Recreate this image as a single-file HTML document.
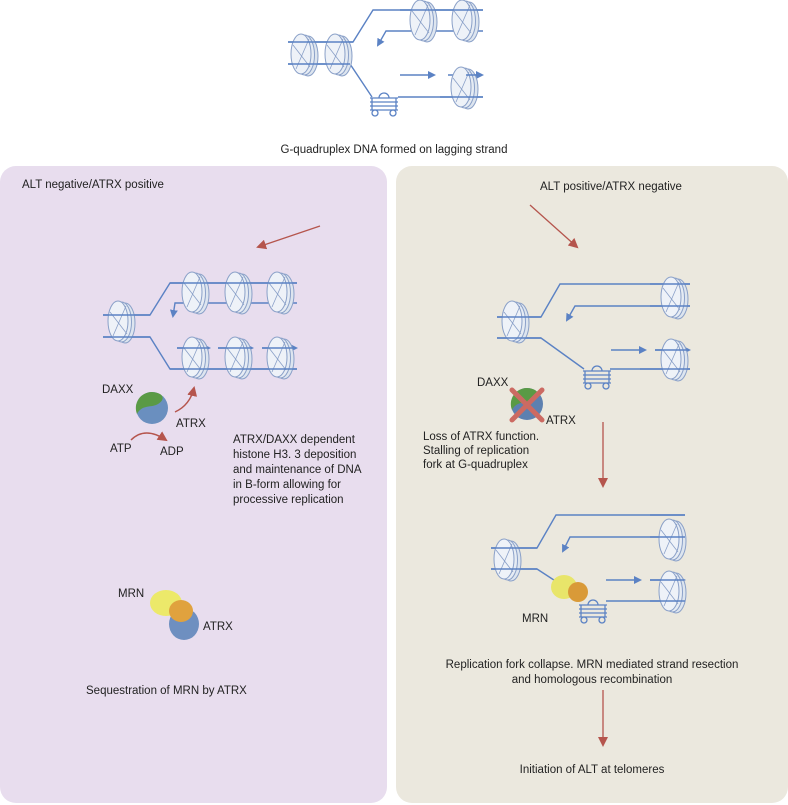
<!DOCTYPE html>
<html><head><meta charset="utf-8"><style>
html,body{margin:0;padding:0;background:#fff;}
svg{display:block;}
text{font-family:"Liberation Sans",sans-serif;font-size:11.5px;fill:#222;}
</style></head><body>
<svg width="788" height="805" viewBox="0 0 788 805" xmlns="http://www.w3.org/2000/svg">
<defs>
<g id="nuc">
  <ellipse cx="6" cy="1" rx="10" ry="20" fill="#dde5ef" stroke="#8aa0c8" stroke-width="1"/>
  <ellipse cx="2.5" cy="0" rx="10" ry="20" fill="#e6ecf4" stroke="#8aa0c8" stroke-width="1"/>
  <ellipse cx="-1" cy="-1" rx="10" ry="20" fill="#eef2f8" stroke="#8aa0c8" stroke-width="1"/>
  <path d="M-9,-10 L8,12 M-6,14 L7,-16" stroke="#8aa0c8" stroke-width="0.8" fill="none"/>
</g>
<g id="gq" fill="none" stroke="#5b82c4" stroke-width="1.3">
  <path d="M0,4 H28 M0,8 H28 M0,12 H28 M0,16 H28"/>
  <path d="M9,4 A5,5 0 0 1 19,4"/>
  <circle cx="5" cy="19" r="3"/><circle cx="23" cy="19" r="3"/>
  <path d="M2,4 V16 M26,4 V16"/>
</g>
<marker id="ab" markerWidth="8" markerHeight="8" refX="6" refY="4" orient="auto" markerUnits="userSpaceOnUse">
  <path d="M0,0 L8,4 L0,8 z" fill="#5b82c4"/>
</marker>
<marker id="ar" markerWidth="10" markerHeight="10" refX="8" refY="5" orient="auto" markerUnits="userSpaceOnUse">
  <path d="M0,0 L10,5 L0,10 z" fill="#b5554d"/>
</marker>
</defs>

<rect x="0" y="166" width="387" height="637" rx="16" fill="#e8ddee"/>
<rect x="396" y="166" width="392" height="637" rx="16" fill="#ebe8de"/>

<g fill="none" stroke="#5b82c4" stroke-width="1.4">
  <path d="M288,42 H353 L373,10 H483"/>
  <path d="M483,31 H386 L378,45" marker-end="url(#ab)"/>
  <path d="M288,64 H350 L372,97"/>
  <path d="M398,97 H483"/>
  <path d="M400,75 H434" marker-end="url(#ab)"/>
  <path d="M448,75 H482" marker-end="url(#ab)"/>
</g>
<use href="#gq" x="370" y="94"/>
<use href="#nuc" x="302" y="55"/><use href="#nuc" x="336" y="55"/>
<use href="#nuc" x="421" y="21"/><use href="#nuc" x="463" y="21"/>
<use href="#nuc" x="462" y="88"/>
<g fill="none" stroke="#5b82c4" stroke-width="1.4">
  <path d="M288,42 H353 M288,64 H350 M400,10 H483 M466,75 H482 M440,97 H483"/>
</g>
<text x="394" y="153" text-anchor="middle">G-quadruplex DNA formed on lagging strand</text>

<text x="22" y="188">ALT negative/ATRX positive</text>
<path d="M320,226 L258,247" stroke="#b5554d" stroke-width="1.3" fill="none" marker-end="url(#ar)"/>
<g fill="none" stroke="#5b82c4" stroke-width="1.4">
  <path d="M103,315 H150 L170,283 H297"/>
  <path d="M297,303 H175 L173,316" marker-end="url(#ab)"/>
  <path d="M103,337 H150 L170,369 H297"/>
  <path d="M177,348 H209" marker-end="url(#ab)"/>
  <path d="M218,348 H252" marker-end="url(#ab)"/>
  <path d="M262,348 H296" marker-end="url(#ab)"/>
</g>
<use href="#nuc" x="119" y="322"/>
<use href="#nuc" x="193" y="293"/><use href="#nuc" x="236" y="293"/><use href="#nuc" x="278" y="293"/>
<use href="#nuc" x="193" y="358"/><use href="#nuc" x="236" y="358"/><use href="#nuc" x="278" y="358"/>
<g fill="none" stroke="#5b82c4" stroke-width="1.4">
  <path d="M103,315 H150 M103,337 H150 M170,283 H297 M170,369 H297 M262,348 H296 M218,348 H252 M177,348 H209"/>
</g>
<text x="102" y="393">DAXX</text>
<circle cx="152" cy="408" r="16" fill="#6a8fbf"/>
<path d="M152,392 A16,16 0 0 0 137,414 C142,404 152,408 158,404 C165,400 165,393 152,392 z" fill="#5a9a45"/>
<path d="M175,412 Q190,405 194,388" stroke="#b5554d" stroke-width="1.5" fill="none" marker-end="url(#ar)"/>
<text x="176" y="427">ATRX</text>
<path d="M131,440 Q145,426 166,440" stroke="#b5554d" stroke-width="1.5" fill="none" marker-end="url(#ar)"/>
<text x="110" y="452">ATP</text>
<text x="160" y="455">ADP</text>
<g style="font-size:12px">
<text x="233" y="443">ATRX/DAXX dependent</text>
<text x="233" y="458">histone H3. 3 deposition</text>
<text x="233" y="473">and maintenance of DNA</text>
<text x="233" y="488">in B-form allowing for</text>
<text x="233" y="503">processive replication</text>
</g>
<text x="118" y="597">MRN</text>
<ellipse cx="184" cy="624" rx="15" ry="16" fill="#6e8fc0"/>
<ellipse cx="166" cy="603" rx="16" ry="13" fill="#ece96a"/>
<ellipse cx="181" cy="611" rx="12" ry="11" fill="#e0a23e"/>
<text x="203" y="630">ATRX</text>
<text x="86" y="694">Sequestration of MRN by ATRX</text>

<text x="540" y="190">ALT positive/ATRX negative</text>
<path d="M530,205 L577,247" stroke="#b5554d" stroke-width="1.3" fill="none" marker-end="url(#ar)"/>
<g fill="none" stroke="#5b82c4" stroke-width="1.4">
  <path d="M497,317 H541 L560,284 H690"/>
  <path d="M690,306 H575 L567,320" marker-end="url(#ab)"/>
  <path d="M497,338 H541 L584,369"/>
  <path d="M610,369 H690"/>
  <path d="M611,350 H645" marker-end="url(#ab)"/>
  <path d="M655,350 H689" marker-end="url(#ab)"/>
</g>
<use href="#gq" x="583" y="367"/>
<use href="#nuc" x="513" y="322"/>
<use href="#nuc" x="672" y="298"/><use href="#nuc" x="672" y="360"/>
<g fill="none" stroke="#5b82c4" stroke-width="1.4">
  <path d="M497,317 H541 M497,338 H541 M655,350 H689 M640,369 H690 M650,284 H690 M650,306 H690"/>
</g>
<text x="477" y="386">DAXX</text>
<circle cx="527" cy="404" r="16" fill="#5d80b0"/>
<path d="M527,388 A16,16 0 0 0 512,410 C517,400 527,404 533,400 C540,396 540,389 527,388 z" fill="#5a9a45"/>
<path d="M512,390 L542,420 M542,390 L512,420" stroke="#cc6a62" stroke-width="5" stroke-linecap="round"/>
<text x="546" y="424">ATRX</text>
<text x="423" y="440">Loss of ATRX function.</text>
<text x="423" y="454">Stalling of replication</text>
<text x="423" y="468">fork at G-quadruplex</text>
<path d="M603,422 L603,486" stroke="#b5554d" stroke-width="1.3" fill="none" marker-end="url(#ar)"/>

<g fill="none" stroke="#5b82c4" stroke-width="1.4">
  <path d="M491,548 H537 L556,515 H685"/>
  <path d="M685,537 H570 L563,551" marker-end="url(#ab)"/>
  <path d="M491,569 H537 L560,584"/>
  <path d="M606,601 H685"/>
  <path d="M606,580 H640" marker-end="url(#ab)"/>
  <path d="M650,580 H684" marker-end="url(#ab)"/>
</g>
<use href="#gq" x="579" y="601"/>
<use href="#nuc" x="505" y="560"/>
<use href="#nuc" x="670" y="540"/><use href="#nuc" x="670" y="592"/>
<g fill="none" stroke="#5b82c4" stroke-width="1.4">
  <path d="M491,548 H537 M491,569 H537 M650,580 H684 M650,601 H685 M650,515 H685 M650,537 H685"/>
</g>
<ellipse cx="564" cy="587" rx="13" ry="12" fill="#e8e56a"/>
<ellipse cx="578" cy="592" rx="10" ry="10" fill="#d99a38"/>
<text x="522" y="622">MRN</text>
<text x="592" y="668" text-anchor="middle">Replication fork collapse. MRN mediated strand resection</text>
<text x="592" y="683" text-anchor="middle">and homologous recombination</text>
<path d="M603,690 L603,745" stroke="#b5554d" stroke-width="1.3" fill="none" marker-end="url(#ar)"/>
<text x="592" y="773" text-anchor="middle">Initiation of ALT at telomeres</text>
</svg>
</body></html>
